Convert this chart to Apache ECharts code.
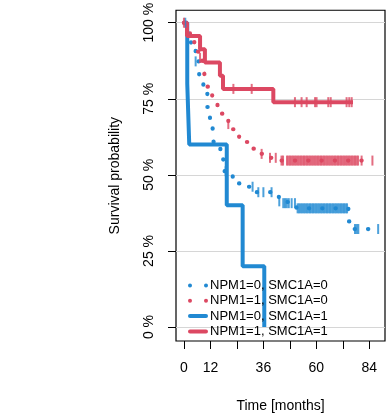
<!DOCTYPE html>
<html>
<head>
<meta charset="utf-8">
<script src="https://cdn.jsdelivr.net/npm/echarts@6/dist/echarts.min.js"></script>
<style>
  html, body { margin: 0; padding: 0; background: #fff; }
  #chart { width: 387px; height: 418px; }
</style>
</head>
<body>
<div id="chart"></div>
<script>
// groups
const groupNames = ['NPM1=0, SMC1A=0', 'NPM1=1, SMC1A=0', 'NPM1=0, SMC1A=1', 'NPM1=1, SMC1A=1'];

// KM curves: [time in months, survival %]
const curveBlueDotted = [
  [0, 100], [1.5, 96], [3.2, 91.7], [5.3, 87.3], [6.9, 83], [7.6, 81.4], [8.8, 76.7],
  [10.6, 72.3], [11.8, 67.8], [13, 63.2], [13.8, 58.9], [16.5, 55.3], [17.8, 51.2],
  [20, 49.6], [22.1, 48.3], [24.5, 47.2], [26.9, 46.1], [32.5, 44.3], [41.7, 43.2],
  [43, 41.3], [45, 40.7], [51, 39], [74.5, 34.7], [75.5, 32.2], [88, 32.2]
];
const curveRedDotted = [
  [0, 100], [0.8, 98.5], [1.7, 96.5], [3, 94.5], [4.7, 92.7], [6, 90.5], [7.3, 88.4],
  [8.3, 85.8], [9.2, 83.3], [10, 81], [10.7, 79], [11.8, 77], [12.8, 75.1], [13.7, 73.4],
  [15.2, 71.7], [16.8, 70.1], [18.5, 68.3], [20.1, 66.7], [21.6, 65], [23.1, 63.5],
  [25, 62.1], [26.9, 60.8], [29, 59.6], [31, 58.6], [33.5, 57.6], [35.2, 56.9],
  [39, 55.6], [44, 54.7], [85.4, 54.7]
];
const curveBlueSolid = [
  [0, 100], [1.5, 80], [2.4, 60], [19.4, 40], [26.6, 20], [36.4, 0]
];
const curveRedSolid = [
  [0, 100], [1.4, 95.65], [7.3, 91.3], [9.5, 86.96], [16.3, 82.6], [17.7, 78.26],
  [40.5, 73.9], [76.6, 73.9]
];

// censoring marks
const censorBlueDotted = [
  [0.6, 100], [5.3, 87.3], [18.9, 51.2], [31.1, 46.1], [33.7, 44.3], [36, 44.3], [39.7, 44.3],
  [43.2, 41.3], [45, 40.7], [45.8, 40.7], [46.6, 40.7], [47.5, 40.7], [48.8, 40.7], [50.3, 40.7],
  [51.5, 39], [52.2, 39], [52.9, 39], [53.6, 39], [54.3, 39], [55, 39], [55.7, 39], [56.4, 39],
  [57.1, 39], [57.8, 39], [58.5, 39], [59.2, 39], [59.9, 39], [60.6, 39], [61.3, 39],
  [62, 39], [62.7, 39], [63.4, 39], [64.1, 39], [64.8, 39], [65.5, 39], [66.2, 39],
  [66.9, 39], [67.6, 39], [68.3, 39], [69, 39], [69.7, 39], [70.4, 39], [71.1, 39],
  [71.8, 39], [72.5, 39], [73.2, 39], [73.9, 39],
  [77.5, 32.2], [78.3, 32.2], [79, 32.2], [88, 32.2]
];
const censorRedDotted = [
  [0, 100], [7.3, 88.4], [20.1, 66.7], [35.2, 56.9], [39, 55.6], [41.6, 55.6],
  [44.2, 54.7], [44.9, 54.7], [46.7, 54.7], [47.4, 54.7], [48.1, 54.7], [48.8, 54.7],
  [49.5, 54.7], [50.2, 54.7], [50.9, 54.7], [51.6, 54.7], [52.3, 54.7], [53, 54.7],
  [53.7, 54.7], [54.4, 54.7], [55.1, 54.7], [55.8, 54.7], [56.5, 54.7], [57.2, 54.7],
  [57.9, 54.7], [58.6, 54.7], [59.3, 54.7], [60, 54.7], [60.7, 54.7], [61.4, 54.7],
  [62.1, 54.7], [62.8, 54.7], [63.5, 54.7], [64.2, 54.7], [64.9, 54.7], [65.6, 54.7],
  [66.3, 54.7], [67, 54.7], [67.7, 54.7], [68.4, 54.7], [69.1, 54.7], [69.8, 54.7],
  [70.5, 54.7], [71.2, 54.7], [71.9, 54.7], [72.6, 54.7], [73.3, 54.7], [74, 54.7],
  [74.7, 54.7], [75.4, 54.7], [76.1, 54.7], [76.8, 54.7], [77.5, 54.7], [78.2, 54.7],
  [78.9, 54.7], [80.5, 54.7], [85.4, 54.7]
];
const censorBlueSolid = [];
const censorRedSolid = [
  [22.4, 78.26], [30.7, 78.26], [50.3, 73.9], [53.3, 73.9], [55.6, 73.9], [59.4, 73.9],
  [60.1, 73.9], [65.4, 73.9], [66.5, 73.9], [73.7, 73.9], [74.9, 73.9], [76, 73.9]
];

// axis ticks
const xTicks = [0, 12, 24, 36, 48, 60, 72, 84];
const xLabels = [0, 12, 36, 60, 84];
const yTicks = [0, 25, 50, 75, 100];

const BLUE = '#2189d2';
const RED = '#dc4862';

const chart = echarts.init(document.getElementById('chart'));

function kmLine(name, data, color, dotted) {
  return {
    name: name,
    type: 'line',
    step: 'end',
    data: data,
    symbol: 'none',
    color: color,
    lineStyle: dotted
      ? { color: color, width: 4.2, type: [0.3, 13], cap: 'round' }
      : { color: color, width: 4 },
    z: 3
  };
}
function censor(data, color) {
  return {
    type: 'scatter',
    data: data,
    symbol: 'rect',
    symbolSize: [2, 10],
    itemStyle: { color: color },
    z: 4,
    silent: true
  };
}

const dotIcon = 'path://M0,2A2,2,0,1,1,4,2A2,2,0,1,1,0,2ZM16,2A2,2,0,1,1,20,2A2,2,0,1,1,16,2Z';
const barIcon = 'path://M2,0L18,0A2,2,0,0,1,18,4L2,4A2,2,0,0,1,2,0Z';

chart.setOption({
  animation: false,
  textStyle: { fontFamily: 'Liberation Sans, Arial, sans-serif' },
  grid: {
    left: 176, top: 10, right: 2, bottom: 74,
    show: true, borderColor: '#000', borderWidth: 1.2
  },
  legend: {
    orient: 'vertical',
    left: 183, top: 274,
    itemWidth: 20, itemHeight: 4, itemGap: 2.3,
    textStyle: { fontSize: 13, color: '#000', padding: [0, 0, 0, -3] },
    data: [
      { name: groupNames[0], icon: dotIcon, itemStyle: { color: BLUE, borderWidth: 0 } },
      { name: groupNames[1], icon: dotIcon, itemStyle: { color: RED, borderWidth: 0 } },
      { name: groupNames[2], icon: barIcon, itemStyle: { color: BLUE, borderWidth: 0 } },
      { name: groupNames[3], icon: barIcon, itemStyle: { color: RED, borderWidth: 0 } }
    ]
  },
  xAxis: {
    type: 'value',
    min: -3.6, max: 91.1,
    name: 'Time [months]',
    nameLocation: 'middle',
    nameGap: 58,
    nameTextStyle: { fontSize: 14, color: '#000' },
    axisLine: { show: false, onZero: false },
    axisTick: { show: true, length: 8, lineStyle: { color: '#000' }, customValues: xTicks },
    axisLabel: { fontSize: 14, color: '#000', margin: 20, customValues: xLabels },
    splitLine: { show: false }
  },
  yAxis: {
    type: 'value',
    min: -4.6, max: 104.1,
    name: 'Survival probability',
    nameLocation: 'middle',
    nameGap: 54,
    nameTextStyle: { fontSize: 14, color: '#000' },
    axisLine: { show: false, onZero: false },
    axisTick: { show: true, length: 8, lineStyle: { color: '#000' }, customValues: yTicks },
    axisLabel: {
      fontSize: 14, color: '#000', margin: 20, rotate: 90,
      customValues: yTicks,
      formatter: v => v + ' %'
    },
    splitLine: { show: true, lineStyle: { color: '#d6d6d6', width: 1 } }
  },
  series: [
    kmLine(groupNames[0], curveBlueDotted, BLUE, true),
    kmLine(groupNames[1], curveRedDotted, RED, true),
    kmLine(groupNames[2], curveBlueSolid, BLUE, false),
    kmLine(groupNames[3], curveRedSolid, RED, false),
    censor(censorBlueDotted, BLUE),
    censor(censorRedDotted, RED),
    censor(censorBlueSolid, BLUE),
    censor(censorRedSolid, RED)
  ]
});
</script>
</body>
</html>
